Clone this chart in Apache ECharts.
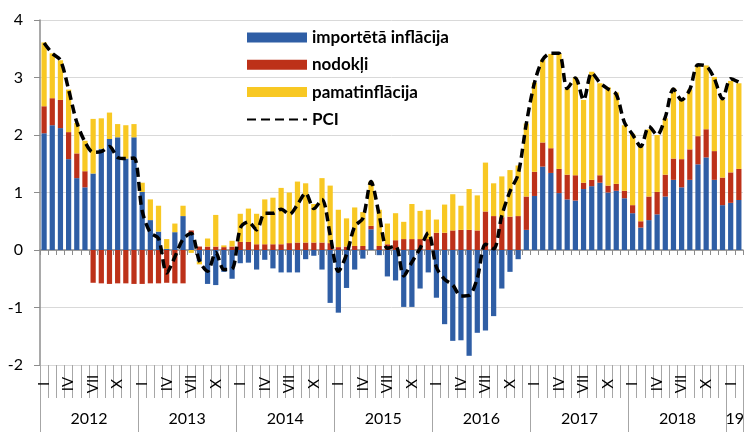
<!DOCTYPE html>
<html><head><meta charset="utf-8">
<script src="https://cdn.jsdelivr.net/npm/echarts@6/dist/echarts.min.js"></script>
<style>html,body{margin:0;padding:0;background:#fff}#c{width:747px;height:432px}</style>
</head><body><div id="c"></div>
<script>
// ---- data ----
const years = ['2012','2013','2014','2015','2016','2017','2018','19'];
const monthsPerYear = [12,12,12,12,12,12,12,2];
const romanMonths = ['I','II','III','IV','V','VI','VII','VIII','IX','X','XI','XII'];
const shownMonthIdx = [0,3,6,9];

const importedInflation = [
  2.03, 2.17, 2.12, 1.58, 1.25, 1.09, 1.33, 1.76, 1.93, 1.96, 1.59, 1.96,
  1.01, 0.52, 0.32, 0.02, 0.31, 0.59, 0.27, -0.20, -0.59, -0.61, -0.38, -0.50,
  -0.23, -0.22, -0.34, -0.17, -0.32, -0.39, -0.39, -0.39, -0.16, -0.10, -0.34, -0.92,
  -1.09, -0.66, -0.34, -0.15, 0.36, -0.09, -0.46, -0.53, -0.99, -0.99, -0.67, -0.39,
  -0.83, -1.29, -1.58, -1.57, -1.84, -1.44, -1.40, -1.15, -0.67, -0.38, -0.16, 0.35,
  0.94, 1.45, 1.34, 0.99, 0.88, 0.86, 1.06, 1.11, 1.17, 1.00, 1.03, 0.90,
  0.64, 0.39, 0.52, 0.62, 0.93, 1.22, 1.09, 1.22, 1.49, 1.61, 1.22, 0.78,
  0.82, 0.87
];
const taxes = [
  0.47, 0.47, 0.49, 0.47, 0.43, 0.28, -0.57, -0.58, -0.59, -0.58, -0.58, -0.59,
  -0.59, -0.58, -0.58, -0.57, -0.58, -0.58, 0.07, 0.06, 0.06, 0.06, 0.05, 0.06,
  0.14, 0.14, 0.10, 0.10, 0.10, 0.10, 0.12, 0.13, 0.13, 0.13, 0.13, 0.12,
  0.05, 0.06, 0.07, 0.07, 0.06, 0.07, 0.10, 0.17, 0.19, 0.19, 0.19, 0.19,
  0.30, 0.30, 0.34, 0.35, 0.35, 0.34, 0.67, 0.59, 0.57, 0.58, 0.59, 0.58,
  0.42, 0.42, 0.43, 0.42, 0.43, 0.44, 0.11, 0.11, 0.13, 0.12, 0.12, 0.13,
  0.14, 0.11, 0.41, 0.39, 0.38, 0.37, 0.49, 0.53, 0.49, 0.49, 0.50, 0.48,
  0.53, 0.54
];
const coreInflation = [
  1.11, 0.78, 0.69, 0.74, 0.53, 0.53, 0.95, 0.53, 0.46, 0.23, 0.58, 0.23,
  0.16, 0.36, 0.45, 0.17, 0.15, 0.18, -0.05, -0.05, 0.14, 0.55, 0.03, 0.10,
  0.49, 0.58, 0.53, 0.78, 0.81, 0.98, 0.88, 1.06, 1.03, 0.67, 1.12, 1.00,
  0.65, 0.49, 0.67, 0.59, 0.77, 0.63, 0.36, 0.47, 0.30, 0.61, 0.49, 0.51,
  0.23, 0.49, 0.63, 0.42, 0.71, 0.61, 0.85, 0.57, 0.71, 0.81, 0.88, 1.27,
  1.55, 1.44, 1.64, 2.00, 1.49, 1.70, 1.44, 1.88, 1.60, 1.71, 1.59, 1.14,
  1.24, 1.30, 1.17, 0.99, 0.98, 1.22, 1.03, 1.04, 1.23, 1.11, 1.29, 1.35,
  1.59, 1.49
];
const pci = [
  3.60, 3.42, 3.30, 2.79, 2.22, 1.88, 1.70, 1.71, 1.80, 1.61, 1.59, 1.60,
  0.68, 0.30, 0.20, -0.40, -0.12, 0.19, 0.29, -0.19, -0.37, -0.04, -0.34, -0.33,
  0.38, 0.49, 0.35, 0.64, 0.64, 0.71, 0.62, 0.79, 0.99, 0.72, 0.88, 0.26,
  -0.37, -0.08, 0.41, 0.55, 1.19, 0.61, 0.03, 0.07, -0.45, -0.21, 0.03, 0.30,
  -0.30, -0.51, -0.61, -0.80, -0.79, -0.49, 0.10, 0.02, 0.60, 1.02, 1.32, 2.20,
  2.91, 3.31, 3.42, 3.42, 2.81, 2.99, 2.61, 3.08, 2.91, 2.80, 2.71, 2.22,
  2.01, 1.80, 2.15, 2.00, 2.31, 2.80, 2.61, 2.79, 3.22, 3.20, 2.98, 2.63,
  2.98, 2.92
];
const seriesNames = ['importētā inflācija', 'nodokļi', 'pamatinflācija', 'PCI'];
const yTicks = {min: -2, max: 4, step: 1};

// ---- categories built from years / months ----
const categories = [];
const monthOfIdx = [];
const yearStartIdx = [];
const yearLabelIdx = {};
years.forEach((y, yi) => {
  const n = monthsPerYear[yi];
  yearStartIdx.push(categories.length);
  yearLabelIdx[categories.length + Math.floor(n / 2)] = y;
  for (let m = 0; m < n; m++) { categories.push(y + '-' + romanMonths[m]); monthOfIdx.push(m); }
});

const FONT = 'Lato, "Open Sans", "DejaVu Sans", sans-serif';
const chart = echarts.init(document.getElementById('c'), null, {renderer: 'canvas'});
const bandHalf = 707 / categories.length / 2;

chart.setOption({
  animation: false,
  textStyle: {fontFamily: FONT},
  grid: {left: 40, right: 0, top: 20, bottom: 67},
  legend: {
    orient: 'vertical', left: 241, top: 23,
    itemWidth: 60, itemHeight: 10, itemGap: 8.3,
    textStyle: {fontSize: 17, fontWeight: 'bold', color: '#000', lineHeight: 19, fontFamily: FONT},
    data: [
      {name: seriesNames[0], icon: 'rect'},
      {name: seriesNames[1], icon: 'rect'},
      {name: seriesNames[2], icon: 'rect'},
      {name: seriesNames[3], itemStyle: {opacity: 0}}
    ]
  },
  xAxis: [
    {
      type: 'category', data: categories, position: 'bottom',
      axisLine: {onZero: true, lineStyle: {color: '#8c8c8c', width: 1.5}},
      axisTick: {show: true, interval: 0, length: 5, lineStyle: {color: '#8c8c8c'}},
      axisLabel: {show: false}, splitLine: {show: false}
    },
    {
      type: 'category', data: categories, position: 'bottom',
      axisLine: {show: false, onZero: false},
      axisTick: {show: true, interval: 0, length: 33, lineStyle: {color: '#a6a6a6'}},
      axisLabel: {
        interval: (i) => shownMonthIdx.indexOf(monthOfIdx[i]) >= 0,
        formatter: (v, i) => romanMonths[monthOfIdx[i]],
        rotate: 90, align: 'center', verticalAlign: 'middle', margin: 19,
        fontSize: 15, color: '#000', fontFamily: FONT
      },
      splitLine: {show: false}
    },
    {
      type: 'category', data: categories, position: 'bottom',
      axisLine: {show: false, onZero: false},
      axisTick: {show: true, interval: (i) => yearStartIdx.indexOf(i) >= 0, length: 67, lineStyle: {color: '#a6a6a6'}},
      axisLabel: {
        interval: (i) => yearLabelIdx[i] !== undefined,
        formatter: (v, i) => yearLabelIdx[i],
        margin: 46, padding: [0, bandHalf * 2, 0, 0],
        fontSize: 16, color: '#000', fontFamily: FONT
      },
      splitLine: {show: false}
    }
  ],
  yAxis: {
    type: 'value', min: yTicks.min, max: yTicks.max, interval: yTicks.step,
    axisLine: {show: true, onZero: false, lineStyle: {color: '#8c8c8c', width: 1.5}},
    axisTick: {show: true, length: 6, lineStyle: {color: '#8c8c8c'}},
    axisLabel: {fontSize: 16, color: '#000', margin: 17, fontFamily: FONT},
    splitLine: {lineStyle: {color: '#d9d9d9', width: 1}}
  },
  series: [
    {name: seriesNames[0], type: 'bar', stack: 'total', data: importedInflation, barCategoryGap: '36%', itemStyle: {color: '#2f5ea5'}},
    {name: seriesNames[1], type: 'bar', stack: 'total', data: taxes, itemStyle: {color: '#bd3119'}},
    {name: seriesNames[2], type: 'bar', stack: 'total', data: coreInflation, itemStyle: {color: '#f8c823'}},
    {name: seriesNames[3], type: 'line', data: pci, smooth: 0.3, symbol: 'none', z: 5,
     lineStyle: {color: '#000', width: 3.5, type: [9, 5]}}
  ]
});
</script></body></html>
